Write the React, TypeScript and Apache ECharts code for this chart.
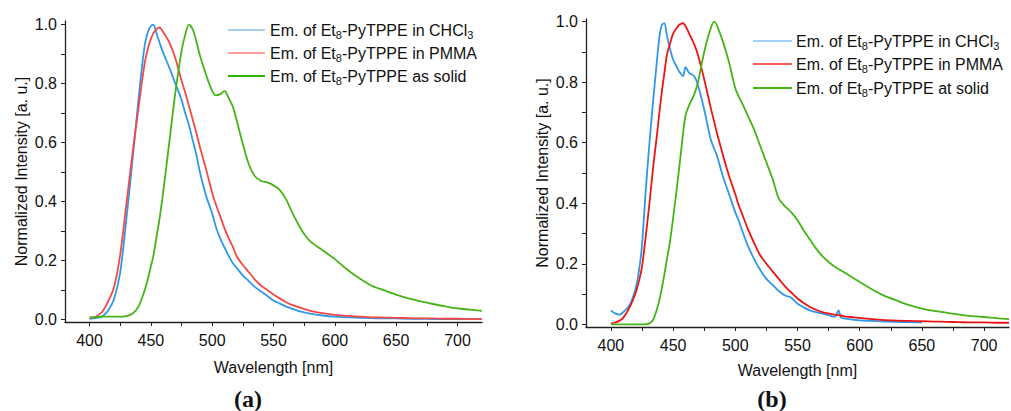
import React, { useEffect, useRef } from "react";
import * as echarts from "echarts";

const leftWl = [400, 405, 410, 415, 420, 425, 430, 435, 440, 445, 448, 450, 452, 455, 457, 460, 465, 470, 475, 478, 481, 484, 487, 490, 495, 500, 503, 507, 510, 513, 517, 520, 525, 530, 535, 540, 545, 550, 555, 560, 565, 570, 575, 580, 590, 600, 610, 620, 630, 640, 650, 660, 670, 680, 690, 700, 710, 720];
const leftChcl3 = [0.003, 0.005, 0.01, 0.03, 0.07, 0.16, 0.34, 0.54, 0.75, 0.93, 0.98, 0.995, 1.0, 0.965, 0.94, 0.905, 0.855, 0.8, 0.745, 0.7, 0.66, 0.61, 0.56, 0.5, 0.42, 0.36, 0.315, 0.27, 0.245, 0.22, 0.19, 0.175, 0.15, 0.13, 0.11, 0.095, 0.08, 0.065, 0.055, 0.045, 0.037, 0.03, 0.025, 0.02, 0.014, 0.01, 0.008, 0.006, 0.005, 0.004, 0.004, 0.003, 0.003, 0.002, 0.002, 0.002, 0.002, 0.002];
const leftPmma = [0.005, 0.01, 0.025, 0.06, 0.11, 0.22, 0.39, 0.56, 0.72, 0.87, 0.925, 0.95, 0.97, 0.985, 0.99, 0.975, 0.94, 0.885, 0.81, 0.77, 0.725, 0.68, 0.635, 0.585, 0.51, 0.43, 0.39, 0.345, 0.31, 0.28, 0.245, 0.215, 0.185, 0.16, 0.135, 0.115, 0.1, 0.085, 0.072, 0.06, 0.05, 0.043, 0.036, 0.03, 0.022, 0.016, 0.013, 0.01, 0.008, 0.007, 0.006, 0.005, 0.004, 0.004, 0.003, 0.003, 0.002, 0.002];
const leftSolid = [0.008, 0.009, 0.01, 0.01, 0.01, 0.01, 0.012, 0.02, 0.045, 0.1, 0.145, 0.18, 0.215, 0.29, 0.34, 0.43, 0.6, 0.77, 0.91, 0.965, 1.0, 0.985, 0.945, 0.895, 0.83, 0.775, 0.76, 0.765, 0.775, 0.755, 0.72, 0.675, 0.595, 0.525, 0.485, 0.47, 0.465, 0.455, 0.44, 0.41, 0.365, 0.325, 0.29, 0.265, 0.235, 0.205, 0.17, 0.14, 0.115, 0.1, 0.085, 0.072, 0.062, 0.053, 0.045, 0.038, 0.034, 0.03];

const rightWl = [400, 403, 407, 410, 415, 420, 423, 425, 428, 431, 434, 437, 439, 441, 443, 445, 447, 450, 453, 455, 458, 460, 463, 467, 470, 475, 480, 483, 485, 490, 495, 500, 503, 505, 510, 515, 520, 525, 530, 535, 540, 545, 550, 555, 560, 565, 570, 575, 580, 583, 585, 590, 600, 610, 620, 630, 640, 650, 660, 670, 680, 690, 700, 710, 720];
const rightChcl3 = [0.046, 0.037, 0.032, 0.04, 0.063, 0.12, 0.19, 0.26, 0.44, 0.6, 0.74, 0.87, 0.95, 0.99, 0.995, 0.955, 0.92, 0.875, 0.85, 0.835, 0.82, 0.85, 0.83, 0.82, 0.79, 0.71, 0.615, 0.58, 0.56, 0.49, 0.43, 0.37, 0.34, 0.316, 0.26, 0.217, 0.18, 0.15, 0.13, 0.11, 0.095, 0.088, 0.068, 0.056, 0.046, 0.04, 0.035, 0.03, 0.025, 0.046, 0.022, 0.018, 0.013, 0.011, 0.009, 0.008, 0.007, 0.006, null, null, null, null, null, null, null];
const rightPmma = [0.003, 0.005, 0.012, 0.022, 0.055, 0.105, 0.15, 0.19, 0.29, 0.4, 0.52, 0.625, 0.7, 0.77, 0.83, 0.89, 0.92, 0.96, 0.98, 0.99, 0.995, 0.985, 0.96, 0.925, 0.89, 0.81, 0.72, 0.67, 0.636, 0.56, 0.49, 0.43, 0.39, 0.37, 0.316, 0.27, 0.228, 0.2, 0.175, 0.15, 0.125, 0.105, 0.085, 0.07, 0.057, 0.048, 0.04, 0.036, 0.032, 0.03, 0.029, 0.025, 0.021, 0.017, 0.014, 0.012, 0.011, 0.01, 0.009, 0.008, 0.007, 0.006, 0.006, 0.005, 0.005];
const rightSolid = [0, 0, 0, 0, 0, 0, 0, 0, 0, 0.003, 0.015, 0.05, 0.08, 0.12, 0.165, 0.215, 0.26, 0.35, 0.45, 0.52, 0.63, 0.69, 0.725, 0.76, 0.8, 0.9, 0.975, 1.0, 0.99, 0.935, 0.865, 0.78, 0.75, 0.735, 0.69, 0.645, 0.59, 0.535, 0.48, 0.415, 0.39, 0.37, 0.344, 0.31, 0.28, 0.25, 0.225, 0.206, 0.19, 0.183, 0.178, 0.165, 0.14, 0.115, 0.094, 0.078, 0.063, 0.052, 0.044, 0.038, 0.032, 0.027, 0.024, 0.02, 0.017];

const xTickValues = [400, 425, 450, 475, 500, 525, 550, 575, 600, 625, 650, 675, 700];
const xLabelValues = [400, 450, 500, 550, 600, 650, 700];
const yTickValues = [0, 0.1, 0.2, 0.3, 0.4, 0.5, 0.6, 0.7, 0.8, 0.9, 1.0];
const yLabelValues = [0, 0.2, 0.4, 0.6, 0.8, 1.0];

const leftLegend = ["Em. of Et{s|8}-PyTPPE in CHCl{s|3}", "Em. of Et{s|8}-PyTPPE in PMMA", "Em. of Et{s|8}-PyTPPE as solid"];
const rightLegend = ["Em. of Et{s|8}-PyTPPE in CHCl{s|3}", "Em. of Et{s|8}-PyTPPE in PMMA", "Em. of Et{s|8}-PyTPPE at solid"];

const FONT = "Arial, 'Liberation Sans', sans-serif";
const SERIF = "'Liberation Serif', 'DejaVu Serif', serif";
const AX = "#222";
const BLUE = "#2f98e8";
const RED_L = "#f44848";
const RED_R = "#ec1515";
const GREEN = "#45b416";

function pairs(xs: number[], ys: (number | null)[]) {
  return xs.map((x, i) => [x, ys[i]]);
}

function xAxisCfg(gridIndex: number, nameGap: number) {
  return {
    type: "value",
    gridIndex,
    min: 380,
    max: 720,
    position: "bottom",
    axisLine: { show: true, onZero: false, lineStyle: { color: AX, width: 1.3 } },
    axisTick: { show: true, customValues: xTickValues, length: 4, lineStyle: { color: AX, width: 1 } },
    axisLabel: { customValues: xLabelValues, margin: 10, fontSize: 16, color: "#111", fontFamily: FONT },
    splitLine: { show: false },
    name: "Wavelength [nm]",
    nameLocation: "middle",
    nameGap,
    nameTextStyle: { fontSize: 16, color: "#111", fontFamily: FONT },
  };
}

function yAxisCfg(gridIndex: number, min: number, max: number) {
  return {
    type: "value",
    gridIndex,
    min,
    max,
    axisLine: { show: true, onZero: false, lineStyle: { color: AX, width: 1.3 } },
    axisTick: { show: true, customValues: yTickValues, length: 4, lineStyle: { color: AX, width: 1 } },
    axisLabel: {
      customValues: yLabelValues,
      margin: 8,
      fontSize: 16,
      color: "#111",
      fontFamily: FONT,
      formatter: (v: number) => v.toFixed(1),
    },
    splitLine: { show: false },
    name: "Normalized Intensity [a. u.]",
    nameLocation: "middle",
    nameGap: 36,
    nameTextStyle: { fontSize: 16, color: "#111", fontFamily: FONT },
  };
}

function lineSeries(name: string, data: any[], color: string, idx: number) {
  return {
    name,
    type: "line",
    xAxisIndex: idx,
    yAxisIndex: idx,
    data,
    showSymbol: false,
    symbol: "none",
    smooth: 0.3,
    connectNulls: false,
    lineStyle: { color, width: 1.8 },
    itemStyle: { color },
  };
}

function legendRows(x0: number, x1: number, tx: number, ys: number[], labels: string[], colors: string[], widths: number[]) {
  const out: any[] = [];
  labels.forEach((lab, i) => {
    out.push({
      type: "line",
      shape: { x1: x0, y1: ys[i], x2: x1, y2: ys[i] },
      style: { stroke: colors[i], lineWidth: widths[i] },
      silent: true,
    });
    out.push({
      type: "text",
      x: tx,
      y: ys[i],
      silent: true,
      style: {
        text: lab,
        fontSize: 16,
        fontFamily: FONT,
        fill: "#111",
        align: "left",
        verticalAlign: "middle",
        lineHeight: 20,
        rich: {
          s: { fontSize: 11, fontFamily: FONT, fill: "#111", lineHeight: 11, verticalAlign: "bottom" },
        },
      },
    });
  });
  return out;
}

function panelLabel(x: number, letter: string) {
  return {
    type: "text",
    x,
    y: 399,
    silent: true,
    style: {
      text: "(" + letter + ")",
      align: "center",
      verticalAlign: "middle",
      fontSize: 24,
      fontWeight: "bold",
      fontFamily: SERIF,
      fill: "#111",
    },
  };
}

export default function App() {
  const ref = useRef<HTMLDivElement>(null);
  useEffect(() => {
    document.body.style.margin = "0";
    if (!ref.current) return;
    const chart = echarts.init(ref.current, null, { renderer: "svg" });
    chart.setOption({
      animation: false,
      backgroundColor: "#ffffff",
      grid: [
        { left: 65, top: 21, right: 529, bottom: 89 },
        { left: 586, top: 19, right: 2, bottom: 84 },
      ],
      xAxis: [xAxisCfg(0, 37), xAxisCfg(1, 35)],
      yAxis: [yAxisCfg(0, -0.008, 1.012), yAxisCfg(1, -0.009, 1.009)],
      series: [
        lineSeries("(a) CHCl3", pairs(leftWl, leftChcl3), BLUE, 0),
        lineSeries("(a) PMMA", pairs(leftWl, leftPmma), RED_L, 0),
        lineSeries("(a) solid", pairs(leftWl, leftSolid), GREEN, 0),
        lineSeries("(b) CHCl3", pairs(rightWl, rightChcl3), BLUE, 1),
        lineSeries("(b) PMMA", pairs(rightWl, rightPmma), RED_R, 1),
        lineSeries("(b) solid", pairs(rightWl, rightSolid), GREEN, 1),
      ],
      graphic: [
        ...legendRows(228, 265, 270, [30, 53, 76], leftLegend, ["#4aa0e6", "#ff7d7d", "#2fb400"], [1, 1.3, 2]),
        ...legendRows(753, 792, 796, [41, 64, 88], rightLegend, ["#4aa8f0", "#f02020", "#40b810"], [1, 1.3, 2]),
        panelLabel(248, "a"),
        panelLabel(772, "b"),
      ],
    });
    return () => chart.dispose();
  }, []);
  return <div ref={ref} style={{ width: 1011, height: 411 }} />;
}
